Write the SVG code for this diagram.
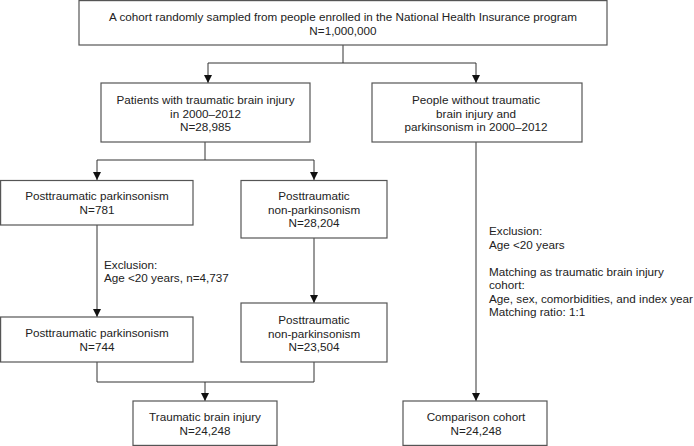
<svg xmlns="http://www.w3.org/2000/svg" width="694" height="446" viewBox="0 0 694 446">
<defs>
<marker id="arr" viewBox="0 0 8 10" refX="8" refY="5" markerWidth="8" markerHeight="10" markerUnits="userSpaceOnUse" orient="auto">
<path d="M0,1 L8,5 L0,9 Z" fill="#111"/>
</marker>
<style>
.box{fill:#fff;stroke:#555;stroke-width:1.2}
.t{font-family:"Liberation Sans",Arial,sans-serif;font-size:11.7px;fill:#222}
.c{text-anchor:middle}
.ln{fill:none;stroke:#333;stroke-width:1}
</style>
</defs>
<rect width="694" height="446" fill="#fff"/>
<g id="connectors">
<path class="ln" d="M343,45 V63 H208"/>
<path class="ln" d="M343,63 H476"/>
<path class="ln" d="M208,63 V83" marker-end="url(#arr)"/>
<path class="ln" d="M476,63 V83" marker-end="url(#arr)"/>
<path class="ln" d="M205,142 V160 H97"/>
<path class="ln" d="M205,160 H314"/>
<path class="ln" d="M97,160 V180" marker-end="url(#arr)"/>
<path class="ln" d="M314,160 V180" marker-end="url(#arr)"/>
<path class="ln" d="M97,225 V317" marker-end="url(#arr)"/>
<path class="ln" d="M314,238 V303" marker-end="url(#arr)"/>
<path class="ln" d="M97,362 V382 H314 V362"/>
<path class="ln" d="M205,382 V401" marker-end="url(#arr)"/>
<path class="ln" d="M476,142 V401" marker-end="url(#arr)"/>
</g>
<g id="n_cohort">
<rect class="box" x="79" y="0.6" width="528" height="44.4"/>
<text class="t c" x="343" y="21">A cohort randomly sampled from people enrolled in the National Health Insurance program</text>
<text class="t c" x="343" y="35">N=1,000,000</text>
</g>
<g id="n_tbi">
<rect class="box" x="101" y="83" width="209" height="59"/>
<text class="t c" x="205.5" y="104">Patients with traumatic brain injury</text>
<text class="t c" x="205.5" y="117.5">in 2000–2012</text>
<text class="t c" x="205.5" y="131">N=28,985</text>
</g>
<g id="n_nontbi">
<rect class="box" x="372" y="83" width="210" height="59"/>
<text class="t c" x="476" y="104">People without traumatic</text>
<text class="t c" x="476" y="117.5">brain injury and</text>
<text class="t c" x="476" y="131">parkinsonism in 2000–2012</text>
</g>
<g id="n_pp">
<rect class="box" x="0.6" y="180.5" width="192.4" height="44.5"/>
<text class="t c" x="97" y="200">Posttraumatic parkinsonism</text>
<text class="t c" x="97" y="213.5">N=781</text>
</g>
<g id="n_pnp">
<rect class="box" x="241" y="180.5" width="146" height="57.5"/>
<text class="t c" x="314" y="200">Posttraumatic</text>
<text class="t c" x="314" y="213.5">non-parkinsonism</text>
<text class="t c" x="314" y="227">N=28,204</text>
</g>
<g id="n_excl1">
<text class="t" x="104" y="269">Exclusion:</text>
<text class="t" x="104" y="282">Age &lt;20 years, n=4,737</text>
</g>
<g id="n_excl2">
<text class="t" x="489" y="235">Exclusion:</text>
<text class="t" x="489" y="249">Age &lt;20 years</text>
<text class="t" x="489" y="276">Matching as traumatic brain injury</text>
<text class="t" x="489" y="289">cohort:</text>
<text class="t" x="489" y="303">Age, sex, comorbidities, and index year</text>
<text class="t" x="489" y="316">Matching ratio: 1:1</text>
</g>
<g id="n_pp2">
<rect class="box" x="0.6" y="317" width="192.4" height="45"/>
<text class="t c" x="97" y="337">Posttraumatic parkinsonism</text>
<text class="t c" x="97" y="351">N=744</text>
</g>
<g id="n_pnp2">
<rect class="box" x="241" y="303" width="146" height="59"/>
<text class="t c" x="314" y="324">Posttraumatic</text>
<text class="t c" x="314" y="337.5">non-parkinsonism</text>
<text class="t c" x="314" y="351">N=23,504</text>
</g>
<g id="n_tbi2">
<rect class="box" x="133" y="401" width="144" height="44.4"/>
<text class="t c" x="205" y="421">Traumatic brain injury</text>
<text class="t c" x="205" y="435">N=24,248</text>
</g>
<g id="n_comp">
<rect class="box" x="403" y="401" width="144" height="44.4"/>
<text class="t c" x="476" y="421">Comparison cohort</text>
<text class="t c" x="476" y="435">N=24,248</text>
</g>
</svg>
